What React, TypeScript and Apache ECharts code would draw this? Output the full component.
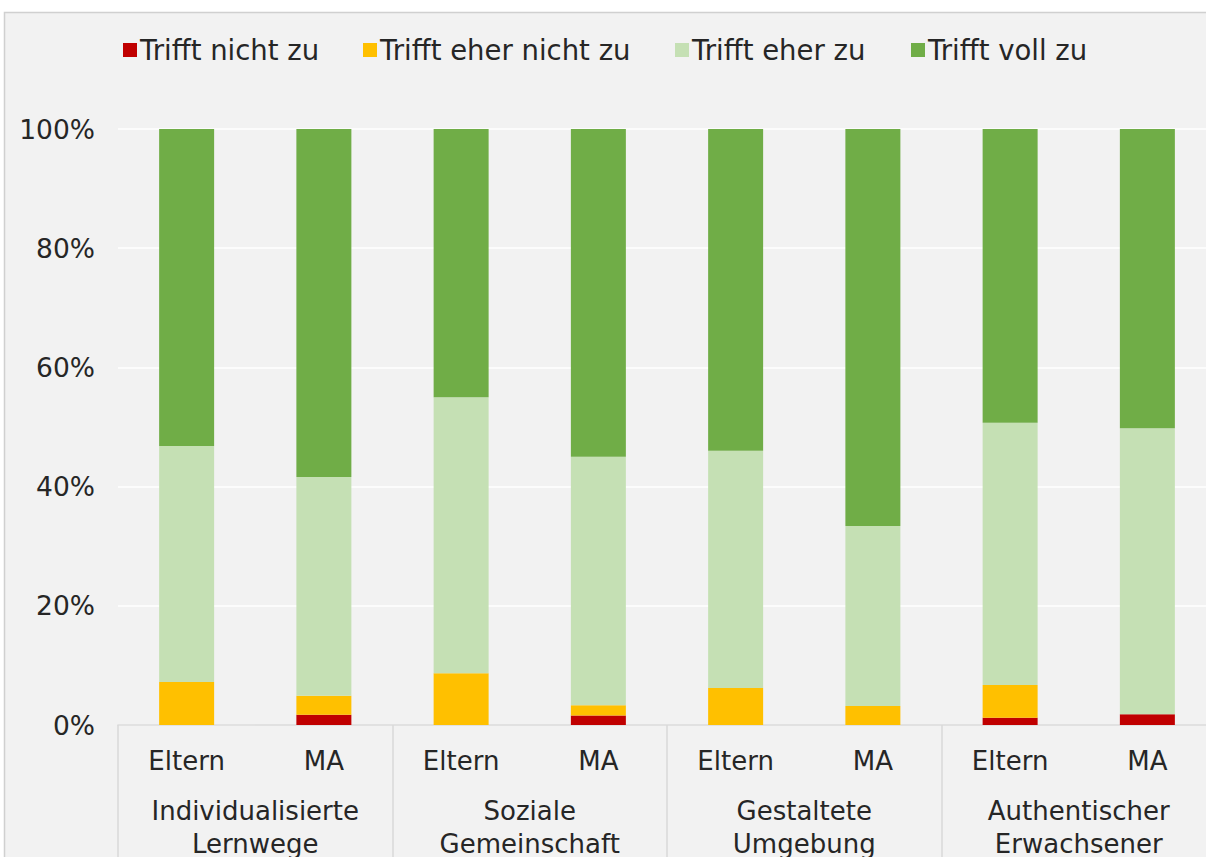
import React, { useEffect, useRef } from "react";
import * as echarts from "echarts";

const subLabels = ["Eltern", "MA", "Eltern", "MA", "Eltern", "MA", "Eltern", "MA"];
const groups = [
  "Individualisierte\nLernwege",
  "Soziale\nGemeinschaft",
  "Gestaltete\nUmgebung",
  "Authentischer\nErwachsener",
];
const seriesNames = ["Trifft nicht zu", "Trifft eher nicht zu", "Trifft eher zu", "Trifft voll zu"];
const nichtZu = [0, 1.7, 0, 1.6, 0, 0, 1.2, 1.8];
const eherNichtZu = [7.2, 3.2, 8.7, 1.7, 6.2, 3.2, 5.5, 0];
const eherZu = [39.6, 36.7, 46.3, 41.7, 39.8, 30.2, 44.0, 48.0];
const vollZu = [53.2, 58.4, 45.0, 55.0, 54.0, 66.6, 49.3, 50.2];
const yTicks = [0, 20, 40, 60, 80, 100];

const colors = ["#c00000", "#ffc000", "#c5e0b4", "#70ad47"];
const legendLeft = [118, 358, 670, 906];
const FONT = "DejaVu Sans";
const TEXT = "#262626";

export default function App() {
  const ref = useRef<HTMLDivElement>(null);
  useEffect(() => {
    document.body.style.margin = "0";
    document.body.style.overflow = "hidden";
    document.body.style.background = "#ffffff";
    const chart = echarts.init(ref.current!, null, { renderer: "svg" });
    const data = [nichtZu, eherNichtZu, eherZu, vollZu];
    chart.setOption({
      animation: false,
      backgroundColor: "transparent",
      textStyle: { fontFamily: FONT },
      graphic: [
        {
          type: "rect",
          z: -10,
          silent: true,
          shape: { x: 4.5, y: 12.5, width: 1240, height: 880 },
          style: { fill: "#f2f2f2", stroke: "#d0d0d0", lineWidth: 1.5 },
        },
      ],
      legend: seriesNames.map((n, i) => ({
        data: [n],
        left: legendLeft[i],
        top: 31,
        icon: "rect",
        itemWidth: 14,
        itemHeight: 14,
        textStyle: { fontFamily: FONT, fontSize: 27.5, color: TEXT, padding: [0, 0, 0, -2] },
        selectedMode: false,
      })),
      grid: { left: 118, top: 129, width: 1098, height: 596, containLabel: false },
      yAxis: {
        type: "value",
        min: 0,
        max: 100,
        interval: 20,
        axisLine: { show: false },
        axisTick: { show: false },
        axisLabel: {
          formatter: (v: number) => (yTicks.includes(v) ? v + "%" : ""),
          fontFamily: FONT,
          fontSize: 26.5,
          color: TEXT,
          margin: 23,
        },
        splitLine: { lineStyle: { color: "#ffffff", width: 1.5 } },
      },
      xAxis: [
        {
          type: "category",
          data: subLabels,
          position: "bottom",
          axisLine: { lineStyle: { color: "#d9d9d9", width: 1.5 } },
          axisTick: { show: false },
          axisLabel: { fontFamily: FONT, fontSize: 26, color: TEXT, margin: 23, interval: 0 },
        },
        {
          type: "category",
          data: groups,
          position: "bottom",
          axisLine: { show: false },
          axisTick: {
            show: true,
            interval: 0,
            length: 150,
            lineStyle: { color: "#d9d9d9", width: 1.5 },
          },
          axisLabel: {
            fontFamily: FONT,
            fontSize: 26,
            color: TEXT,
            margin: 69,
            lineHeight: 33,
            interval: 0,
            align: "center",
          },
        },
      ],
      series: seriesNames.map((n, i) => ({
        name: n,
        type: "bar",
        stack: "total",
        xAxisIndex: 0,
        barWidth: 55,
        itemStyle: { color: colors[i] },
        data: data[i],
      })),
    });
    return () => chart.dispose();
  }, []);
  return <div ref={ref} style={{ width: 1240, height: 880 }} />;
}
